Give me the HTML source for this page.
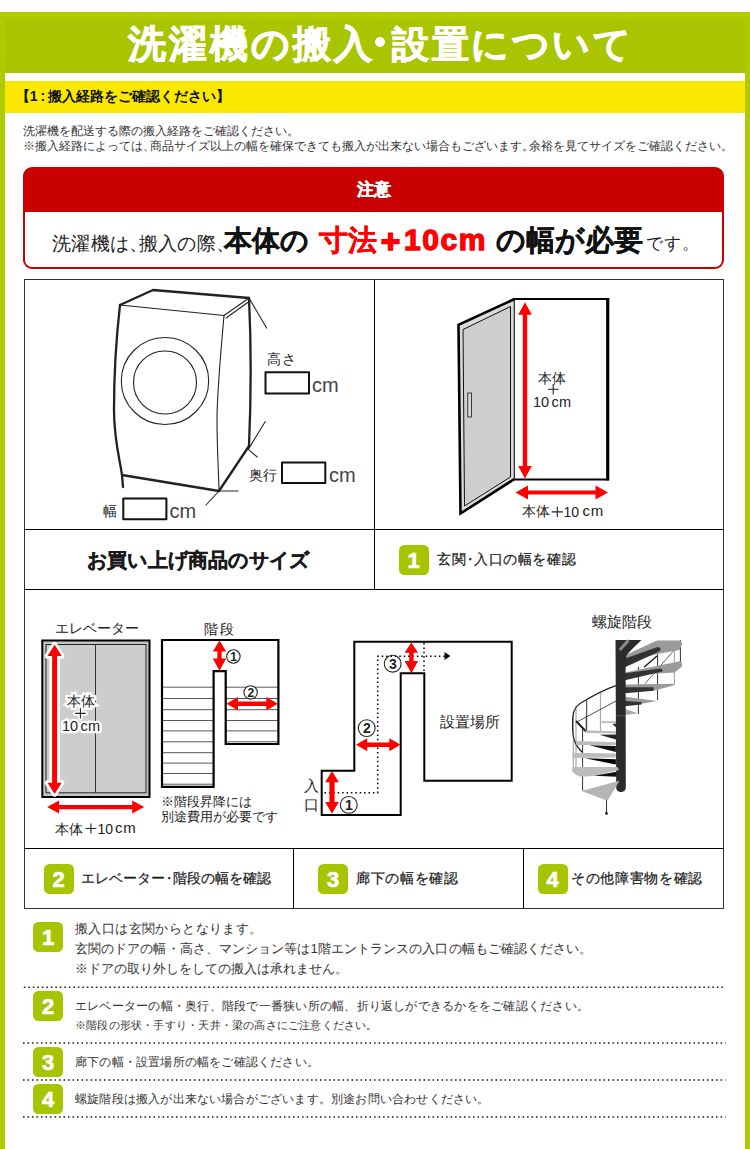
<!DOCTYPE html>
<html lang="ja"><head><meta charset="utf-8">
<style>
*{margin:0;padding:0;box-sizing:border-box}
html,body{width:750px;height:1149px;overflow:hidden;background:#fff}
body{font-family:"Liberation Sans",sans-serif;color:#222;position:relative}
.a{position:absolute;white-space:nowrap}
#frame{position:absolute;left:0;top:12px;width:750px;height:1137px;background:#aecb00}
#inner{position:absolute;left:5px;top:20px;width:740px;height:1129px;background:#fff}
#hdr{position:absolute;left:5px;top:20px;width:740px;height:53px;background:#a8c500}
.tt{color:#fff;font-weight:bold;font-size:38px;line-height:53px;letter-spacing:3px;-webkit-text-stroke:0.9px #fff}
#title{position:absolute;left:0;top:20px;width:750px;text-align:center;color:#fff;font-weight:bold;font-size:38px;line-height:53px;letter-spacing:0px}
#ybar{position:absolute;left:5px;top:81px;width:740px;height:31.5px;background:#fbe800}
#ytxt{left:15.8px;top:80.5px;font-size:14px;font-weight:bold;line-height:31px;color:#111}
.hp{letter-spacing:-0.4em}
.intro{left:23px;font-size:12.1px;color:#333;line-height:14px}
#rbox{position:absolute;left:23px;top:167px;width:701px;height:102px;border:2px solid #c80000;border-radius:9px;background:linear-gradient(#c80000 0,#c80000 43px,#fff 43px)}
#rhead{position:absolute;left:0;top:0;width:100%;height:43px;color:#fff;font-weight:bold;font-size:17px;text-align:center;line-height:42px;-webkit-text-stroke:0.5px #fff}
#rmain{position:absolute;left:0;top:43px;width:100%;height:54px;text-align:center;line-height:54px;color:#111}
.hh{letter-spacing:-0.5em}
.bk{font-weight:bold;color:#111;-webkit-text-stroke:0.25px #111}
.g{margin-left:5px}
.pl{font-size:19px;line-height:0;margin:0 0.5px}
.grid{position:absolute;border:1px solid #333}
.badge{position:absolute;width:30px;height:30px;border-radius:5.5px;background:#a6c500;color:#fff;font-weight:bold;font-size:22px;text-align:center;line-height:32px;-webkit-text-stroke:0.7px #fff}
.dt{margin:0 -0.23em}
.lb{font-size:14px;line-height:16px;color:#1a1a1a;-webkit-text-stroke:0.22px #1a1a1a}
.lbl{font-size:14px;color:#222}
.dots{position:absolute;left:22px;width:703px;height:0;border-top:2px dotted #555}
.wt{-webkit-text-stroke:4.5px #fff;paint-order:stroke fill;text-shadow:2px 0 0 #fff,-2px 0 0 #fff,0 2px 0 #fff,0 -2px 0 #fff,1.5px 1.5px 0 #fff,-1.5px -1.5px 0 #fff,1.5px -1.5px 0 #fff,-1.5px 1.5px 0 #fff,1px 0 0 #fff,-1px 0 0 #fff,0 1px 0 #fff,0 -1px 0 #fff,2px 1px 0 #fff,-2px 1px 0 #fff,2px -1px 0 #fff,-2px -1px 0 #fff,1px 2px 0 #fff,-1px 2px 0 #fff,1px -2px 0 #fff,-1px -2px 0 #fff}
.cn{font-size:11px;line-height:13px;width:10px;text-align:center;font-weight:bold;color:#222}
.li{font-size:12.5px;color:#333;line-height:20px}
</style></head><body>
<div id="frame"></div>
<div id="inner"></div>
<div id="hdr"></div>
<div class="a tt" style="left:128px;top:17.5px">洗濯機の搬入</div>
<div style="position:absolute;left:374.7px;top:37.4px;width:10px;height:10px;border-radius:50%;background:#fff"></div>
<div class="a tt" style="left:392px;top:18px;font-size:37px;letter-spacing:2.5px">設置について</div>
<div id="ybar"></div>
<div class="a" id="ytxt">【<span style="letter-spacing:2.8px">1:</span>搬入経路をご確認ください】</div>
<div class="a intro" style="top:124px">洗濯機を配送する際の搬入経路をご確認ください。</div>
<div class="a intro" style="top:139px">※搬入経路によっては<span class="hp">、</span>商品サイズ以上の幅を確保できても搬入が出来ない場合もございます<span class="hp">。</span>余裕を見てサイズをご確認ください。</div>

<div id="rbox">
  <div id="rhead">注意</div>
  <div class="a" style="left:27px;top:64px;font-size:19px;line-height:22px;color:#222;letter-spacing:0.3px">洗濯機は<span class="hh">、</span>搬入の際<span class="hh">、</span></div>
<div class="a bk" style="left:199px;top:56px;font-size:28px;line-height:32px">本体の</div>
<div class="a bk" style="left:294px;top:55px;font-size:29px;line-height:32px;color:#f00;-webkit-text-stroke-color:#f00">寸法<span style="-webkit-text-stroke:2.4px #f00;margin-left:-1px">＋</span><span style="letter-spacing:1.6px;font-size:30px;-webkit-text-stroke:1.3px #f00;margin-left:-1px">10cm</span></div>
<div class="a bk" style="left:471px;top:55px;font-size:29px;line-height:32px">の幅が必要</div>
<div class="a" style="left:621px;top:66px;font-size:17px;line-height:18px;color:#222;letter-spacing:0.9px">です。</div>
</div>

<!-- grid + drawings -->
<svg style="position:absolute;left:0;top:0" width="750" height="1149" viewBox="0 0 750 1149">
<defs>
 <marker id="ah" viewBox="0 0 10 10" refX="10" refY="5" markerWidth="4" markerHeight="4" orient="auto-start-reverse"><path d="M0,0 L10,5 L0,10 z" fill="#f00"/></marker>
</defs>
<g fill="none" stroke="#000" stroke-width="1" shape-rendering="crispEdges">
 <rect x="24.5" y="279.5" width="699" height="629" stroke="#333"/>
 <line x1="374.5" y1="280" x2="374.5" y2="589"/>
 <line x1="25" y1="529.5" x2="724" y2="529.5"/>
 <line x1="25" y1="589.5" x2="724" y2="589.5"/>
 <line x1="25" y1="848.5" x2="724" y2="848.5"/>
 <line x1="293.5" y1="849" x2="293.5" y2="908"/>
 <line x1="523.5" y1="849" x2="523.5" y2="908"/>
</g>

<!-- washing machine -->
<g fill="none" stroke="#222" stroke-linecap="round" stroke-linejoin="round">
 <g stroke-width="2.3">
  <path d="M120,305 L153,290 L249,298"/>
  <path d="M120,305 C116,340 114,380 114,410 C114,440 120,460 122,475 L123,487"/>
  <path d="M122,475 L219,491 L249,446"/>
  <path d="M249,298 C251,340 251,400 249,446"/>
 </g>
 <g stroke-width="1.1">
  <path d="M120,305 L224,315.5"/>
  <path d="M224,315.5 C220,360 217,395 217,420 C217,450 219,480 219,491"/>
  <path d="M224,315.5 L249,298 M226,318 L250.5,300.5"/>
  <ellipse cx="165" cy="381" rx="43.7" ry="43.5"/>
  <circle cx="165" cy="382.5" r="31.5"/>
  <path d="M249,298 L266.6,328"/>
  <path d="M265.3,421.5 L248.3,449.4 L257.2,457"/>
  <path d="M219,491 L238,491"/>
  <path d="M219,491 L206,505"/>
 </g>
 <g stroke="#111" stroke-width="2" fill="#fff">
  <rect x="265.5" y="372.3" width="43.5" height="21.2"/>
  <rect x="282" y="462.4" width="43.3" height="20.7"/>
  <rect x="123.3" y="498.4" width="43.1" height="20.8"/>
 </g>
</g>

<!-- door -->
<g>
 <path d="M514,299 L607.5,299 L607.5,479.5 L514,479.5" fill="#fff" stroke="#000" stroke-width="2.2"/>
 <line x1="607.8" y1="298" x2="607.8" y2="480.5" stroke="#000" stroke-width="3"/>
 <path d="M458.5,325 L514,299.5 L514,479.5 L460.5,513.5 Z" fill="#dadada"/>
 <path d="M514.5,299 L458.5,324.8 L460.5,513.5 L514.5,479" fill="none" stroke="#000" stroke-width="2.6" stroke-linejoin="miter"/>
 <line x1="514.3" y1="299" x2="514.3" y2="480" stroke="#111" stroke-width="1.1"/>
 <path d="M463,329.5 L510.5,306.5 L510.5,477 L464.5,506 Z" fill="#cecece" stroke="#111" stroke-width="1"/>
 <rect x="467.8" y="393" width="3.8" height="24" fill="#dadada" stroke="#111" stroke-width="0.8"/>
 <line x1="525" y1="313" x2="525" y2="467" stroke="#f00" stroke-width="4.4"/>
 <path d="M525,302.3 L531.8,314.8 L518.2,314.8 Z M525,478.5 L531.8,466 L518.2,466 Z" fill="#f00"/>
 <line x1="527" y1="492.5" x2="596" y2="492.5" stroke="#f00" stroke-width="4"/>
 <path d="M515.5,492.5 L528,485.5 L528,499.5 Z M608,492.5 L595.5,485.5 L595.5,499.5 Z" fill="#f00"/>
</g>

</svg>

<!-- row 3 drawings -->
<svg style="position:absolute;left:0;top:0" width="750" height="1149">
<!-- elevator -->
<rect x="42.3" y="640.5" width="107.2" height="156.5" fill="#c6c6c6" stroke="#000" stroke-width="2"/>
<rect x="46" y="644.5" width="100" height="148.3" fill="#cdcdcd" stroke="#222" stroke-width="1"/>
<line x1="95.5" y1="644.5" x2="95.5" y2="793" stroke="#333" stroke-width="1"/>
<path d="M54.6,644.7 L61.7,656 L57.1,656 L57.1,782.7 L61.7,782.7 L54.6,794 L47.5,782.7 L52.1,782.7 L52.1,656 L47.5,656 Z" fill="#f00" stroke="#fff" stroke-width="5.4" paint-order="stroke" stroke-linejoin="round"/>
<path d="M47.1,807.1 L59.1,800.6 L59.1,805 L132.2,805 L132.2,800.6 L144.2,807.1 L132.2,813.6 L132.2,809.2 L59.1,809.2 L59.1,813.6 Z" fill="#f00"/>
<!-- stairs -->
<g stroke="#444" stroke-width="0.9">
 <line x1="162" y1="687.2" x2="213.6" y2="687.2"/>
 <line x1="162" y1="698.5" x2="213.6" y2="698.5"/>
 <line x1="162" y1="709.7" x2="213.6" y2="709.7"/>
 <line x1="162" y1="720.5" x2="213.6" y2="720.5"/>
 <line x1="162" y1="730.9" x2="213.6" y2="730.9"/>
 <line x1="162" y1="741.8" x2="213.6" y2="741.8"/>
 <line x1="162" y1="752.7" x2="213.6" y2="752.7"/>
 <line x1="162" y1="763.1" x2="213.6" y2="763.1"/>
 <line x1="162" y1="773.5" x2="213.6" y2="773.5"/>
 <line x1="162" y1="784.2" x2="213.6" y2="784.2"/>
 <line x1="225.7" y1="687.2" x2="278.4" y2="687.2"/>
 <line x1="225.7" y1="698.5" x2="278.4" y2="698.5"/>
 <line x1="225.7" y1="709.7" x2="278.4" y2="709.7"/>
 <line x1="225.7" y1="720.5" x2="278.4" y2="720.5"/>
 <line x1="225.7" y1="730.9" x2="278.4" y2="730.9"/>
 <line x1="225.7" y1="741.8" x2="278.4" y2="741.8"/>
</g>
<path d="M162,640 L278.4,640 L278.4,744 L225.7,744 L225.7,671.2 L213.6,671.2 L213.6,786.8 L162,786.8 Z" fill="none" stroke="#000" stroke-width="2.2"/>
<path d="M219.5,640.6 L226.2,651.6 L221.6,651.6 L221.6,658.4 L226.2,658.4 L219.5,670.8 L212.8,658.4 L217.4,658.4 L217.4,651.6 L212.8,651.6 Z" fill="#f00"/>
<path d="M226.6,703.7 L238,697 L238,701.5 L266.3,701.5 L266.3,697 L277.7,703.7 L266.3,710.4 L266.3,705.9 L238,705.9 L238,710.4 Z" fill="#f00"/>
<g fill="#fff" stroke="#222" stroke-width="1.1">
 <circle cx="233.4" cy="656.5" r="6.7"/>
 <circle cx="250.6" cy="692.4" r="6.7"/>
 <circle cx="348.8" cy="804.9" r="8.4"/>
 <circle cx="366.7" cy="728.1" r="8.4"/>
 <circle cx="392.7" cy="663.7" r="8.4"/>
</g>
<g font-family="Liberation Sans" font-weight="bold" fill="#222" text-anchor="middle">
 <text x="233.6" y="661" font-size="12">1</text>
 <text x="250.8" y="696.9" font-size="12">2</text>
 <text x="349" y="810" font-size="14">1</text>
 <text x="366.9" y="733.2" font-size="14">2</text>
 <text x="392.9" y="668.8" font-size="14">3</text>
</g>
<!-- corridor -->
<path d="M321.7,770.7 L354.3,770.7 L354.3,641.7 L511.7,641.7 L511.7,780.7 L424.3,780.7 L424.3,673.3 L400.7,673.3 L400.7,815 L321.7,815 Z" fill="none" stroke="#000" stroke-width="2"/>
<g fill="none" stroke="#000" stroke-width="1.5" stroke-dasharray="1.5 2.9">
 <path d="M324.5,792.7 L377.7,792.7 L377.7,656.3 L447,656.3"/>
 <path d="M424,643 L424,672"/>
</g>
<path d="M450.5,656 L444.5,652 L444.5,660 Z" fill="#111"/>
<path d="M332,771 L338.8,782.2 L334.6,782.2 L334.6,801.9 L338.8,801.9 L332,813.7 L325.2,801.9 L329.4,801.9 L329.4,782.2 L325.2,782.2 Z" fill="#f00"/>
<path d="M356,744.8 L367.2,738.3 L367.2,742.6 L389.3,742.6 L389.3,738.3 L400.5,744.8 L389.3,751.3 L389.3,747 L367.2,747 L367.2,751.3 Z" fill="#f00"/>
<path d="M411.4,642.4 L418.1,652.8 L413.6,652.8 L413.6,661 L418.1,661 L411.4,673.2 L404.6,661 L409.2,661 L409.2,652.8 L404.6,652.8 Z" fill="#f00"/>
<!-- spiral staircase -->
<g>
 <g stroke="#aaa" stroke-width="1.2">
  <line x1="573.3" y1="712" x2="573.3" y2="768"/>
  <line x1="576" y1="706" x2="576" y2="768"/>
  <line x1="600.5" y1="693" x2="600.5" y2="731"/>
  <line x1="674.4" y1="649" x2="674.4" y2="685"/>
  <line x1="586" y1="715" x2="586" y2="731"/>
 </g>
 <g stroke="#333" stroke-width="1">
  <line x1="586.7" y1="700.5" x2="586.7" y2="731"/>
  <line x1="582.6" y1="729" x2="582.6" y2="790.5"/>
  <line x1="657.6" y1="654" x2="657.6" y2="700"/>
  <line x1="680.4" y1="640" x2="680.4" y2="664"/>
  <line x1="638.4" y1="667" x2="638.4" y2="714"/>
  <line x1="606.5" y1="800" x2="606.5" y2="813.4"/>
 </g>
 <g fill="none" stroke="#222">
  <path d="M616,685.6 C603,690 592,696 580,703.5 C574.5,707 572.5,712 572.5,725 C572.5,740 576,747 582.6,752.5" stroke-width="1.2"/>
  <path d="M576,721 L586,731.5" stroke-width="2"/>
  <path d="M616,701 L576,722.5" stroke-width="0.8"/>
  <path d="M657,656 L644,667.3" stroke-width="1.4"/>
  <path d="M673.5,650.8 L645,683.7" stroke-width="0.7"/>
 </g>
 <!-- upper right steps -->
 <path d="M623.3,656 L657,640.4 L680.5,640.4 C682.5,642 682.5,645 681.3,645.6 L679.6,650 L659.7,653.4 L625,662 Z" fill="#9a9a9a"/>
 <path d="M625,658.6 L657,647.3 C660.5,646.5 661.5,649.5 659.7,651 L657,652.5 L625,667.3 Z" fill="#333"/>
 <path d="M625,672.5 L679.6,661.2 C682.5,662 682.5,666 681.3,667.3 L674.4,672.5 L662.3,673.3 L625,676 Z" fill="#9a9a9a"/>
 <path d="M625,673.3 L660.5,668.5 C662.5,668.8 663,671 662.3,671.6 L625,680.3 Z" fill="#333"/>
 <path d="M625,684.6 L673.5,683.7 L673.5,685.5 L653.6,690.7 L625,690 Z" fill="#9a9a9a"/>
 <path d="M625,687.2 L653.6,687.2 L653.6,690.7 L625,693.3 Z" fill="#333"/>
 <path d="M625,696.7 L657,701 L641.5,703.7 L625,702 Z" fill="#9a9a9a"/>
 <path d="M625,701 L641.5,702 L641.5,704.5 L625,706.3 Z" fill="#333"/>
 <path d="M625,708.9 L638,713.2 L625,715 Z" fill="#aaa"/>
 <!-- lower left steps -->
 <path d="M601.6,721.2 L616,721.2 L616,723 L601.6,723 Z" fill="#bbb"/>
 <path d="M612.3,724 L616,723.5 L616,727.2 Z" fill="#333"/>
 <path d="M585.6,730.3 L616,731.2 L616,733.6 L585.6,733 Z" fill="#bbb"/>
 <path d="M599.5,734.7 L616,734.4 L616,739.5 Z" fill="#222"/>
 <path d="M576.2,741 L615.9,742.3 L615.9,745 L576.2,745 Z" fill="#bbb"/>
 <path d="M589.3,745.3 L615.9,746 L615.9,752 Z" fill="#111"/>
 <path d="M572.5,752.8 L615.9,753.6 L615.9,757.6 L572.5,758 Z" fill="#bbb"/>
 <path d="M585,758.3 L615.9,759.2 L615.9,764.5 Z" fill="#000"/>
 <!-- pole -->
 <path d="M615.5,640 L641.5,640 C636,645 630,651 626,656 C627.5,660 627.2,664 625.6,667 L625.8,787.5 C625.8,793.5 616.2,793.5 616.2,787.5 Z" fill="#2b2b2b"/>
 <path d="M619.8,650 L628.5,640.2" stroke="#8a8a8a" stroke-width="3"/>
 <line x1="616.2" y1="715.8" x2="625.8" y2="715.8" stroke="#777" stroke-width="0.6"/>
 <path d="M573,767 L617.5,767 L619,770 L593,776 L581,776.8 C576,775.5 572,772.5 572,769.5 Z" fill="#bbb"/>
 <path d="M594,775.8 L616.5,771.8 L616.5,776.8 Z" fill="#111"/>
 <path d="M581.3,791 L619.5,780.8 L607.5,800.8 Z" fill="#b5b5b5"/>
 <circle cx="606.5" cy="813.4" r="1.4" fill="#222"/>
</g>
</svg>
<!-- row1/2 texts -->
<div class="a" style="left:267px;top:351px;font-size:14px;line-height:16px;letter-spacing:0.5px">高さ</div>
<div class="a" style="left:312px;top:374px;font-size:20px;line-height:22px;color:#444">cm</div>
<div class="a" style="left:249px;top:467px;font-size:14px;line-height:16px">奥行</div>
<div class="a" style="left:329px;top:464px;font-size:20px;line-height:22px;color:#444">cm</div>
<div class="a" style="left:103px;top:502.5px;font-size:14px;line-height:16px">幅</div>
<div class="a" style="left:169.5px;top:500px;font-size:20px;line-height:22px;color:#444">cm</div>
<div class="a" style="left:538px;top:370px;font-size:14px;line-height:16px">本体</div>
<div class="a" style="left:533px;top:394px;font-size:14.5px;line-height:16px">10</div>
<div class="a" style="left:551.5px;top:394px;font-size:14.5px;line-height:16px;letter-spacing:0.3px">cm</div>
<div class="a" style="left:522px;top:503px;font-size:14px;line-height:16px">本体</div>
<div class="a" style="left:563.5px;top:503.5px;font-size:14px;line-height:16px">10</div>
<div class="a" style="left:582.5px;top:502.5px;font-size:15px;line-height:16px;letter-spacing:0.8px">cm</div>
<div class="a" style="left:87px;top:549px;font-size:20px;line-height:22px;font-weight:bold;letter-spacing:0.2px;color:#1a1a1a;-webkit-text-stroke:0.35px #1a1a1a">お買い上げ商品のサイズ</div>
<div class="badge" style="left:398.6px;top:545.1px">1</div>
<div class="a lb" style="left:437px;top:551px;letter-spacing:0.55px">玄関<span class="dt">・</span>入口の幅を確認</div>

<!-- row 3 texts -->
<div class="a" style="left:55px;top:620px;font-size:14px;line-height:16px">エレベーター</div>
<div class="a" style="left:204px;top:620.5px;font-size:14px;line-height:16px;letter-spacing:1.5px">階段</div>
<div class="a" style="left:592px;top:613.5px;font-size:14.5px;line-height:16px">螺旋階段</div>
<div class="a wt" style="left:66.5px;top:693px;font-size:14px;line-height:16px">本体</div>
<div class="a wt" style="left:62px;top:718px;font-size:14.5px;line-height:16px">10</div>
<div class="a wt" style="left:80.5px;top:718px;font-size:14.5px;line-height:16px;letter-spacing:0.3px">cm</div>
<div class="a" style="left:55px;top:821px;font-size:14px;line-height:16px">本体</div>
<div class="a" style="left:97.5px;top:821px;font-size:14px;line-height:16px">10</div>
<div class="a" style="left:115px;top:820px;font-size:15px;line-height:16px;letter-spacing:0.8px">cm</div>
<div class="a" style="left:161px;top:794px;font-size:13px;line-height:15px">※階段昇降には<br>別途費用が必要です</div>
<div class="a" style="left:304px;top:777px;font-size:14.5px;line-height:18.5px">入<br>口</div>
<div class="a" style="left:440px;top:713.7px;font-size:14.5px;line-height:16px">設置場所</div>
<!-- row 4 -->
<div class="badge" style="left:43.6px;top:863.6px">2</div>
<div class="a lb" style="left:81px;top:870px">エレベーター<span class="dt">・</span>階段の幅を確認</div>
<div class="badge" style="left:318.1px;top:863.6px">3</div>
<div class="a lb" style="left:356px;top:870px;letter-spacing:0.65px">廊下の幅を確認</div>
<div class="badge" style="left:537.6px;top:863.6px">4</div>
<div class="a lb" style="left:571px;top:870px;letter-spacing:0.65px">その他障害物を確認</div>

<!-- list -->
<div class="badge" style="left:33.1px;top:922.1px">1</div>
<div class="a li" style="left:75px;top:919px;font-size:13px;letter-spacing:0.4px">搬入口は玄関からとなります。</div>
<div class="a li" style="left:75px;top:939px;font-size:13px;letter-spacing:0.08px">玄関のドアの幅・高さ、マンション等は1階エントランスの入口の幅もご確認ください。</div>
<div class="a li" style="left:75px;top:959px;font-size:13px">※ドアの取り外しをしての搬入は承れません。</div>
<div class="badge" style="left:33.1px;top:990.9px">2</div>
<div class="a li" style="left:75px;top:996px;font-size:12px;letter-spacing:0.24px">エレベーターの幅・奥行、階段で一番狭い所の幅、折り返しができるかををご確認ください。</div>
<div class="a li" style="left:75px;top:1015px;font-size:11px;letter-spacing:0.21px">※階段の形状・手すり・天井・梁の高さにご注意ください。</div>
<div class="badge" style="left:33.1px;top:1046.6px">3</div>
<div class="a li" style="left:75px;top:1052px;font-size:12px;letter-spacing:0.2px">廊下の幅・設置場所の幅をご確認ください。</div>
<div class="badge" style="left:33.1px;top:1083.6px">4</div>
<div class="a li" style="left:75px;top:1089px;font-size:12px;letter-spacing:0.19px">螺旋階段は搬入が出来ない場合がございます。別途お問い合わせください。</div>
<svg style="position:absolute;left:0;top:0" width="750" height="1149">
 <g stroke="#222" stroke-width="1.6" stroke-dasharray="1.6 2.9">
  <line x1="23.8" y1="987.2" x2="725.5" y2="987.2"/>
  <line x1="23" y1="1043" x2="725.5" y2="1043"/>
  <line x1="23" y1="1080" x2="725.5" y2="1080"/>
  <line x1="23" y1="1117" x2="725.5" y2="1117"/>
 </g>
</svg>
<svg style="position:absolute;left:0;top:0" width="750" height="1149">
 <path d="M75.2,713.4 H85.6 M80.4,708.2 V718.6" stroke="#fff" stroke-width="4.5" stroke-linecap="round"/>
 <g stroke="#222" stroke-width="1.1">
  <path d="M547.9,389.3 H558.6 M553.2,384 V394.6"/>
  <path d="M551.8,511.9 H562.9 M557.3,506.6 V517.1"/>
  <path d="M85.5,828.5 H96.3 M90.9,823.4 V833.6"/>
  <path d="M75.2,713.4 H85.6 M80.4,708.2 V718.6"/>
 </g>
</svg>
</body></html>
